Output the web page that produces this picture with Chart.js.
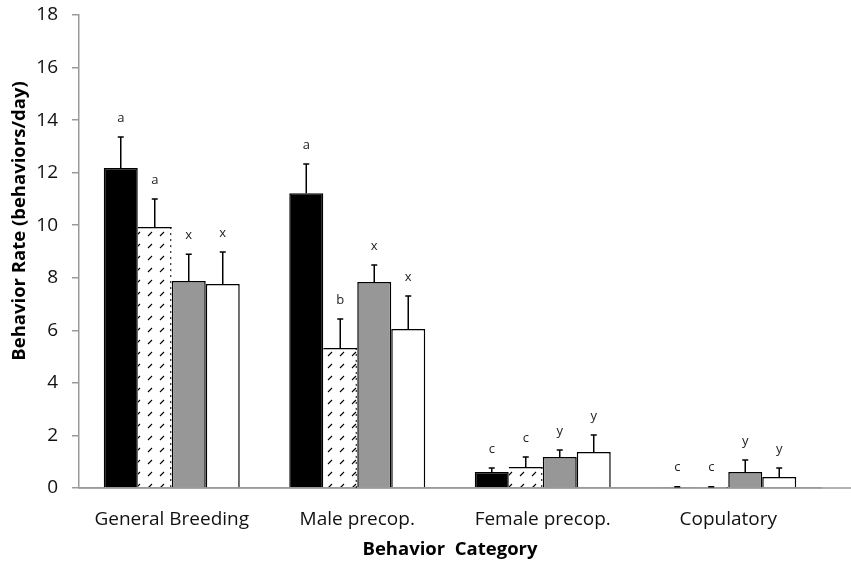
<!DOCTYPE html>
<html>
<head>
<meta charset="utf-8">
<script src="https://cdn.jsdelivr.net/npm/chart.js@4.4.1/dist/chart.umd.min.js"></script>
<style>
  html, body { margin: 0; padding: 0; background: #fff; }
  #wrap { width: 851px; height: 562px; }
</style>
</head>
<body>
<div id="wrap"><canvas id="behaviorChart"></canvas></div>
<script>
// --- data ---
const categories = ['General Breeding', 'Male precop.', 'Female precop.', 'Copulatory'];
const yTicks = [0, 2, 4, 6, 8, 10, 12, 14, 16, 18];

const blackVals   = [12.18, 11.22, 0.61, 0.02];
const blackErr    = [1.18, 1.11, 0.15, 0.03];
const hatchedVals = [9.93, 5.33, 0.80, 0.02];
const hatchedErr  = [1.07, 1.10, 0.38, 0.03];
const grayVals    = [7.88, 7.84, 1.18, 0.61];
const grayErr     = [1.02, 0.65, 0.27, 0.46];
const whiteVals   = [7.76, 6.05, 1.37, 0.42];
const whiteErr    = [1.22, 1.26, 0.65, 0.34];

const blackLetters   = ['a', 'a', 'c', 'c'];
const hatchedLetters = ['a', 'b', 'c', 'c'];
const grayLetters    = ['x', 'x', 'y', 'y'];
const whiteLetters   = ['x', 'x', 'y', 'y'];

document.addEventListener('DOMContentLoaded', function() {

    const FONT = "'Open Sans', sans-serif";

    // slash pattern for the hatched series
    function makeHatch() {
        const c = document.createElement('canvas');
        c.width = 12; c.height = 12;
        const g = c.getContext('2d');
        g.fillStyle = '#fff';
        g.fillRect(0, 0, 12, 12);
        g.strokeStyle = '#000';
        g.lineWidth = 1.1;
        g.beginPath();
        g.moveTo(4, 8);
        g.lineTo(8, 4);
        g.stroke();
        return g.createPattern(c, 'repeat');
    }

    const errors = [blackErr, hatchedErr, grayErr, whiteErr];
    const letters = [blackLetters, hatchedLetters, grayLetters, whiteLetters];

    // error bars (upper only), letters, baseline, y title
    const extrasPlugin = {
        id: 'extras',
        afterDatasetsDraw(chart) {
            const ctx = chart.ctx;
            const y = chart.scales.y;
            const area = chart.chartArea;
            const zero = y.getPixelForValue(0);
            ctx.save();

            // baseline runs on to the right edge
            ctx.strokeStyle = '#9a9a9a';
            ctx.lineWidth = 1.5;
            ctx.beginPath();
            ctx.moveTo(area.left, zero);
            ctx.lineTo(chart.width, zero);
            ctx.stroke();

            chart.data.datasets.forEach((ds, di) => {
                const meta = chart.getDatasetMeta(di);
                meta.data.forEach((bar, i) => {
                    const v = ds.data[i];
                    const top = y.getPixelForValue(v + errors[di][i]);
                    const base = y.getPixelForValue(v);

                    // dotted right edge on hatched bars
                    if (di === 1) {
                        ctx.strokeStyle = '#000';
                        ctx.lineWidth = 1;
                        ctx.setLineDash([2, 4]);
                        ctx.beginPath();
                        ctx.moveTo(bar.x + bar.width / 2 - 1, base);
                        ctx.lineTo(bar.x + bar.width / 2 - 1, zero);
                        ctx.stroke();
                        ctx.setLineDash([]);
                    }

                    ctx.strokeStyle = '#000';
                    ctx.lineWidth = 1.5;
                    ctx.beginPath();
                    ctx.moveTo(bar.x, base);
                    ctx.lineTo(bar.x, top);
                    ctx.moveTo(bar.x - 3, top);
                    ctx.lineTo(bar.x + 3, top);
                    ctx.stroke();

                    ctx.fillStyle = '#222';
                    ctx.font = '13px ' + FONT;
                    ctx.textAlign = 'center';
                    ctx.textBaseline = 'middle';
                    ctx.fillText(letters[di][i], bar.x, top - 19);
                });
            });

            // y axis title (sits a little above the axis middle)
            ctx.translate(20, 221);
            ctx.rotate(-Math.PI / 2);
            ctx.fillStyle = '#000';
            ctx.font = 'bold 18.5px ' + FONT;
            ctx.textAlign = 'center';
            ctx.textBaseline = 'middle';
            ctx.fillText('Behavior Rate (behaviors/day)', 0, 0);
            ctx.restore();
        }
    };

    const ctx = document.getElementById('behaviorChart').getContext('2d');
    new Chart(ctx, {
        type: 'bar',
        data: {
            labels: categories,
            datasets: [
                { label: 'black', data: blackVals, backgroundColor: '#000', borderColor: '#000', borderWidth: 1.5 },
                { label: 'hatched', data: hatchedVals, backgroundColor: makeHatch(), borderColor: '#000',
                  borderWidth: { top: 1.5, left: 0, right: 0, bottom: 0 }, borderSkipped: false },
                { label: 'gray', data: grayVals, backgroundColor: '#979797', borderColor: '#000', borderWidth: 1.5 },
                { label: 'white', data: whiteVals, backgroundColor: '#fff', borderColor: '#000', borderWidth: 1.5 }
            ]
        },
        options: {
            responsive: true,
            maintainAspectRatio: false,
            animation: false,
            layout: { padding: { top: 15, right: 30, left: 0, bottom: 0 } },
            plugins: { legend: { display: false }, tooltip: { enabled: false } },
            datasets: { bar: { categoryPercentage: 0.733, barPercentage: 1.0 } },
            scales: {
                x: {
                    grid: { display: false },
                    border: { color: '#9a9a9a', width: 1.5 },
                    ticks: { color: '#111', font: { family: FONT, size: 19 }, padding: 12 },
                    title: {
                        display: true,
                        text: 'Behavior  Category',
                        color: '#000',
                        font: { family: FONT, size: 18.5, weight: 'bold' },
                        padding: { top: 0, bottom: 1 }
                    },
                    afterFit(scale) {
                        scale.height = 74;
                        scale.paddingLeft = 0;
                        scale.paddingRight = 0;
                    }
                },
                y: {
                    min: 0,
                    max: 18,
                    afterBuildTicks(scale) { scale.ticks = yTicks.map(v => ({ value: v })); },
                    grid: { display: true, drawOnChartArea: false, drawTicks: true, tickLength: 7, color: '#9a9a9a', lineWidth: 1.5 },
                    border: { color: '#9a9a9a', width: 1.5 },
                    ticks: { color: '#111', font: { family: FONT, size: 19 }, padding: 14 },
                    afterFit(scale) {
                        scale.width = 79;
                        scale.paddingTop = 0;
                        scale.paddingBottom = 0;
                    }
                }
            }
        },
        plugins: [extrasPlugin]
    });
});
</script>
</body>
</html>
